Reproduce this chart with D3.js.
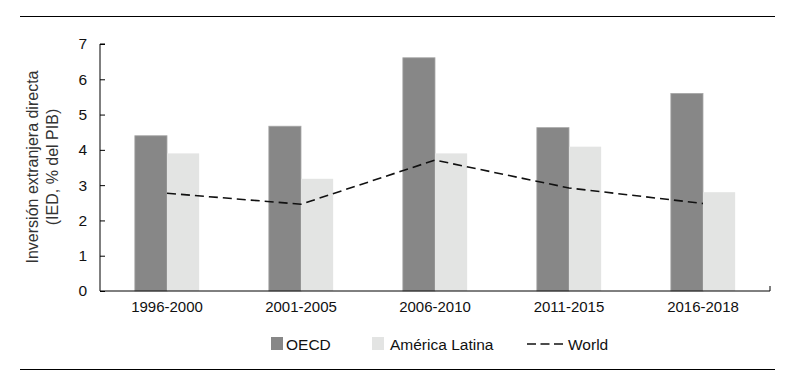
<!DOCTYPE html>
<html><head><meta charset="utf-8">
<script src="https://cdn.jsdelivr.net/npm/d3@7"></script>
<style>body{margin:0;background:#fff}svg{display:block}text{font-family:"Liberation Sans",Arial,sans-serif}</style>
</head><body><svg id="c" width="795" height="388"></svg>
<script>
const categories = ["1996-2000","2001-2005","2006-2010","2011-2015","2016-2018"];
const oecd = [4.4, 4.67, 6.61, 4.63, 5.6];
const latam = [3.9, 3.18, 3.9, 4.09, 2.8];
const world = [2.77, 2.46, 3.71, 2.92, 2.48];
const yTicks = [0,1,2,3,4,5,6,7];
const seriesNames = ["OECD","América Latina","World"];

const svg = d3.select("#c");
const m = {l:100, r:770, t:44, b:291};
const x = d3.scaleBand().domain(categories).range([m.l, m.r]).paddingInner(0.52).paddingOuter(0.26);
const y = d3.scaleLinear().domain([0,7]).range([m.b, m.t]);
const bw = x.bandwidth()/2;

// rules
svg.append("line").attr("x1",20).attr("x2",775).attr("y1",16.5).attr("y2",16.5).attr("stroke","#000").attr("stroke-width",1);
svg.append("line").attr("x1",20).attr("x2",775).attr("y1",369.5).attr("y2",369.5).attr("stroke","#000").attr("stroke-width",1);

// bars
svg.append("g").selectAll("rect").data(oecd).join("rect")
  .attr("x",(d,i)=>x(categories[i])).attr("y",d=>y(d)).attr("width",bw).attr("height",d=>y(0)-y(d))
  .attr("fill","#878787").attr("stroke","#a8a8a8").attr("stroke-width",0.8);
svg.append("g").selectAll("rect").data(latam).join("rect")
  .attr("x",(d,i)=>x(categories[i])+bw).attr("y",d=>y(d)).attr("width",bw).attr("height",d=>y(0)-y(d))
  .attr("fill","#e3e4e3");

// world line
const line = d3.line().x((d,i)=>x(categories[i])+x.bandwidth()/2).y(d=>y(d));
svg.append("path").datum(world).attr("d",line).attr("fill","none").attr("stroke","#111").attr("stroke-width",1.6).attr("stroke-dasharray","9,5");

// y axis
const ya = svg.append("g").attr("transform",`translate(${m.l},0)`)
  .call(d3.axisRight(y).tickValues(yTicks).tickSize(5).tickFormat(d3.format("d")));
ya.select(".domain").attr("d",`M5,${m.t}H0V${m.b}`).attr("stroke","#000");
ya.selectAll(".tick line").attr("stroke","#000");
ya.selectAll(".tick text").attr("x",-13).attr("text-anchor","end").attr("font-size",15.5).attr("fill","#111");

// x axis
const xa = svg.append("g").attr("transform",`translate(0,${m.b})`)
  .call(d3.axisBottom(x).tickSize(0).tickPadding(10));
xa.select(".domain").attr("d",`M${m.l},0H${m.r}V-5`).attr("stroke","#000");
xa.selectAll(".tick text").attr("font-size",15).attr("fill","#111");

// y title
const yt = svg.append("text").attr("transform","translate(38,167) rotate(-90)").attr("text-anchor","middle").attr("font-size",16).attr("fill","#333");
yt.append("tspan").attr("x",0).attr("dy",0).text("Inversión extranjera directa");
yt.append("tspan").attr("x",0).attr("dy",20).text("(IED, % del PIB)");

// legend
const lg = svg.append("g").attr("font-size",15.5).attr("fill","#111");
lg.append("rect").attr("x",271).attr("y",337).attr("width",12).attr("height",13).attr("fill","#878787");
lg.append("text").attr("x",286).attr("y",350).text(seriesNames[0]);
lg.append("rect").attr("x",372).attr("y",337).attr("width",12).attr("height",13).attr("fill","#e3e4e3");
lg.append("text").attr("x",390).attr("y",350).text(seriesNames[1]);
lg.append("line").attr("x1",527).attr("x2",563).attr("y1",344).attr("y2",344).attr("stroke","#111").attr("stroke-width",1.6).attr("stroke-dasharray","9,4.5");
lg.append("text").attr("x",568).attr("y",350).text(seriesNames[2]);
</script></body></html>
